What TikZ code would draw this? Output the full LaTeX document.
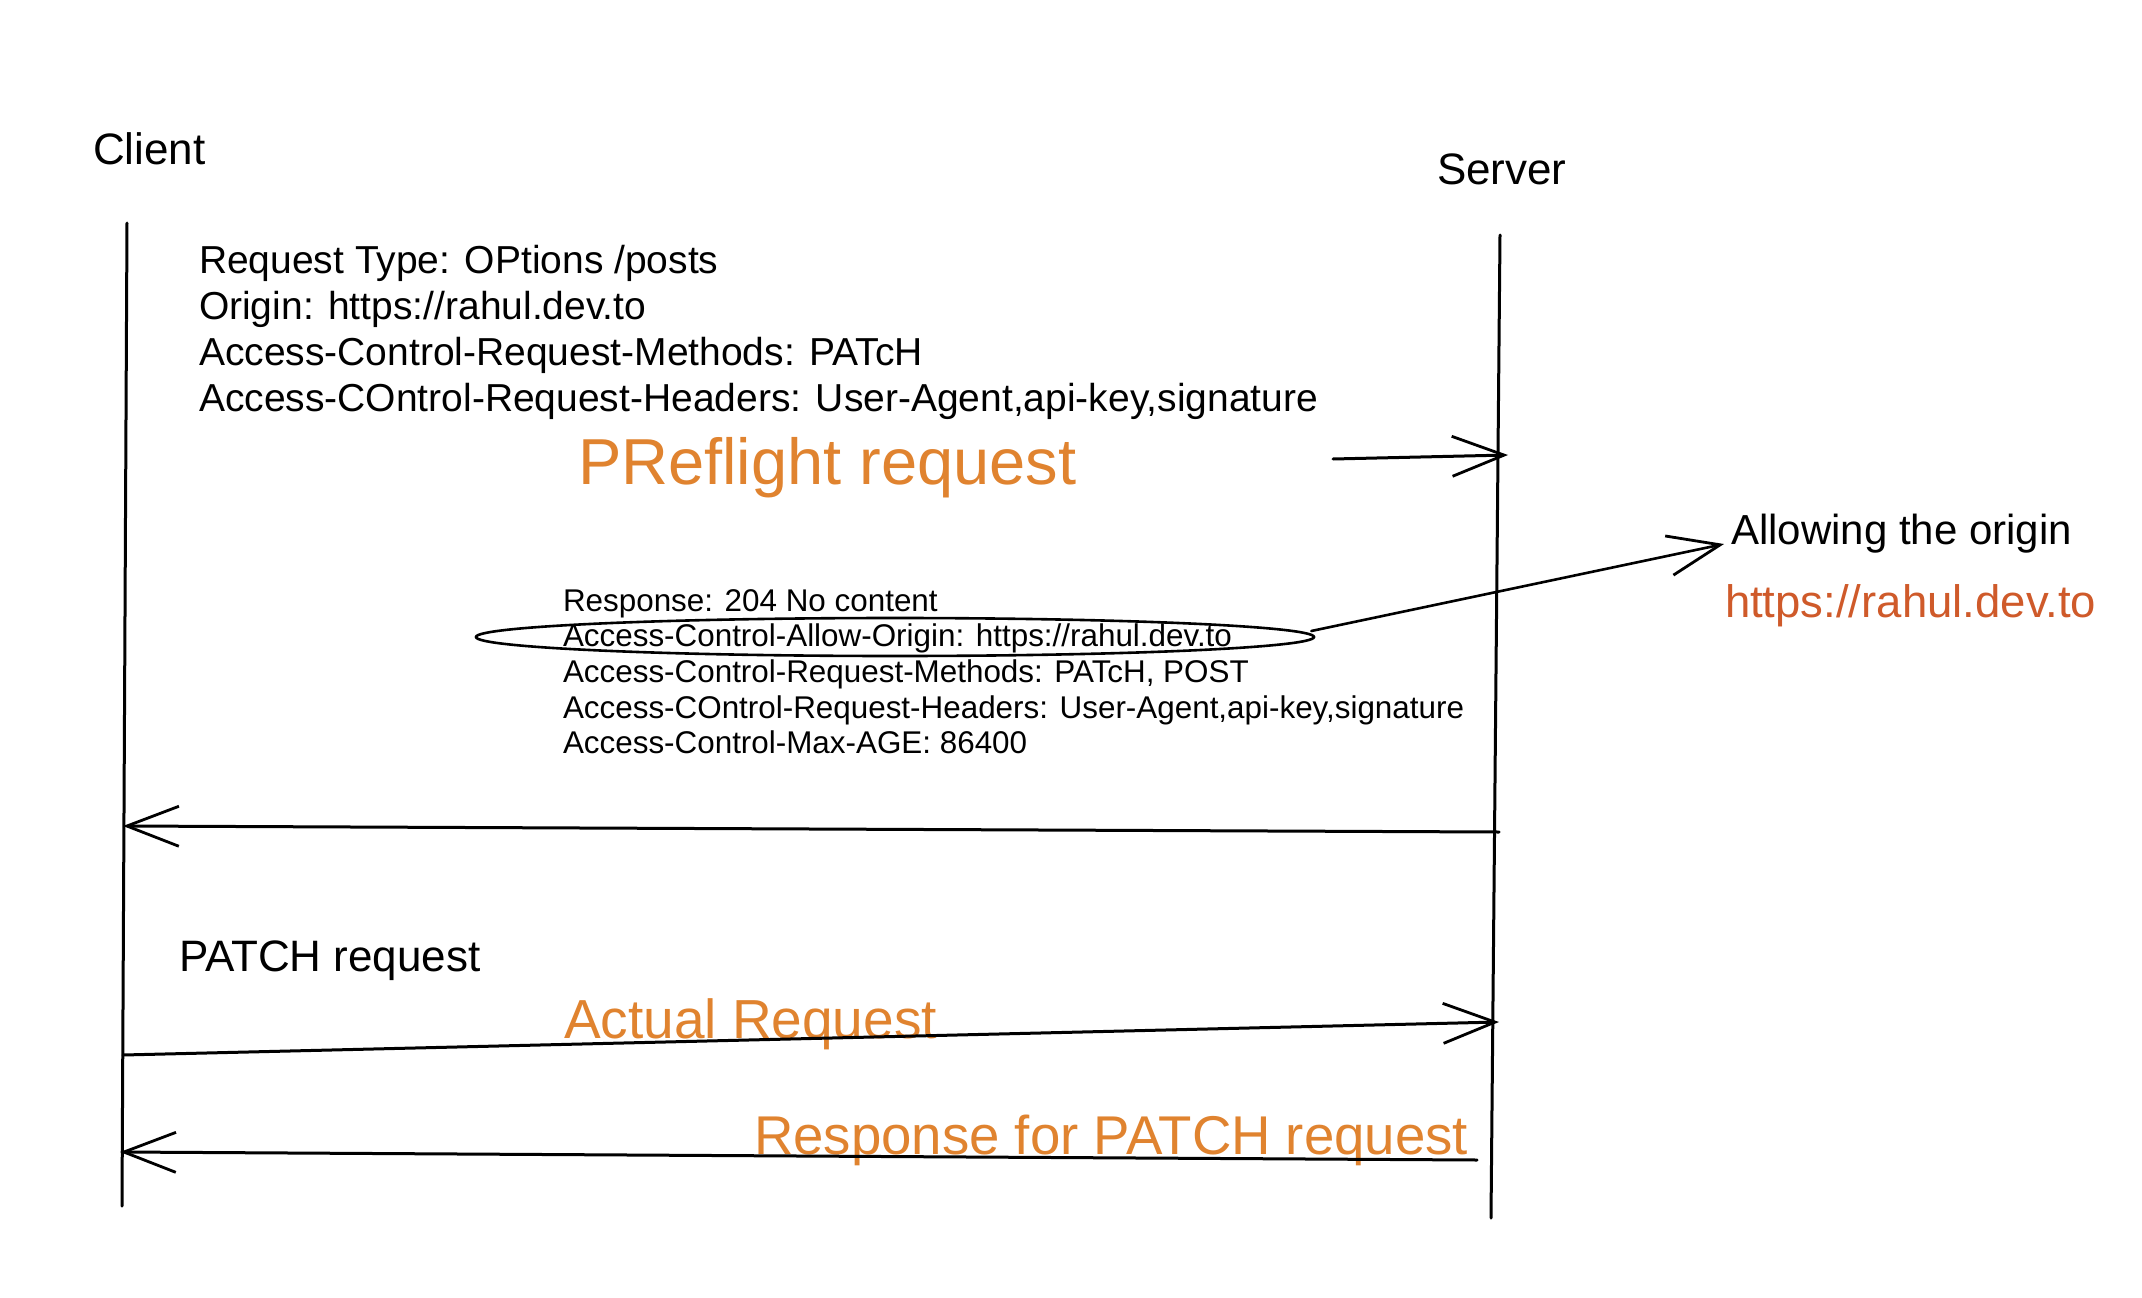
\documentclass[tikz,border=0pt]{standalone}
\usepackage{fontspec}
\setmainfont{Liberation Sans}
\usetikzlibrary{arrows.meta,shapes.geometric}
\definecolor{sketchorange}{HTML}{E0832F}
\definecolor{sketchred}{HTML}{CF5A2A}
\begin{document}
\begin{tikzpicture}[x=1pt,y=-1pt,
  lbl/.style={anchor=base west, inner sep=0pt, outer sep=0pt, text=black},
  big/.style={lbl, font=\fontsize{44}{50}\selectfont},
  reqtxt/.style={lbl, font=\fontsize{39}{46}\selectfont},
  resptxt/.style={lbl, font=\fontsize{31.4}{36}\selectfont},
  hot/.style={lbl, text=sketchorange},
  lifeline/.style={line width=3pt, line cap=round},
  msg/.style={line width=3pt, line cap=round,
    -{Straight Barb[length=52pt, width=40pt, line width=2.8pt]}},
  ring/.style={ellipse, draw, line width=2.6pt, inner sep=0pt}]
\path[use as bounding box, fill=white] (0,0) rectangle (2142,1298);

% participants
\node[big] (client) at (93,164) {Client};
\node[big] (server) at (1437,184) {Server};

% lifelines
\coordinate (cTop) at (127,223);
\coordinate (cBot) at (122,1206);
\coordinate (sTop) at (1500,235);
\coordinate (sBot) at (1491,1218);
\draw[lifeline] (cTop) -- (cBot);
\draw[lifeline] (sTop) -- (sBot);

% preflight request text
\node[reqtxt] (req1) at (199,273) {Request Type: OPtions /posts};
\node[reqtxt] (req2) at (199,319) {Origin: https://rahul.dev.to};
\node[reqtxt] (req3) at (199,365) {Access-Control-Request-Methods: PATcH};
\node[reqtxt] (req4) at (199,411) {Access-COntrol-Request-Headers: User-Agent,api-key,signature};
\node[hot, font=\fontsize{65}{70}\selectfont] (preflight) at (578,484) {PReflight request};

\coordinate (pfS) at (1333,459);
\coordinate (pfE) at (1508,455);
\draw[msg] (pfS) -- (pfE);

% preflight response text
\node[resptxt] (resp1) at (563,611) {Response: 204 No content};
\node[resptxt] (resp2) at (563,646) {Access-Control-Allow-Origin: https://rahul.dev.to};
\node[resptxt] (resp3) at (563,682) {Access-Control-Request-Methods: PATcH, POST};
\node[resptxt] (resp4) at (563,718) {Access-COntrol-Request-Headers: User-Agent,api-key,signature};
\node[resptxt] (resp5) at (563,753) {Access-Control-Max-AGE: 86400};

\node[ring, minimum width=838pt, minimum height=38pt] (oval) at (895,637) {};

% annotation
\node[lbl, font=\fontsize{42}{48}\selectfont] (allow) at (1731,544) {Allowing the origin};
\node[lbl, text=sketchred, font=\fontsize{45.5}{50}\selectfont] (origin) at (1725,617) {https://rahul.dev.to};
\coordinate (allowTip) at (1724,544);
\draw[msg, line width=2.6pt] (oval.east) ++(-4,-6) -- (allowTip);

\coordinate (r1S) at (1499,832);
\coordinate (r1E) at (123,826);
\draw[msg] (r1S) -- (r1E);

% actual request
\node[lbl, font=\fontsize{44}{50}\selectfont] (patch) at (179,971) {PATCH request};
\node[hot, font=\fontsize{55}{60}\selectfont] (actual) at (564,1038) {Actual Request};
\coordinate (aS) at (123,1055);
\coordinate (aE) at (1499,1022);
\draw[msg] (aS) -- (aE);

% response
\node[hot, font=\fontsize{54.6}{60}\selectfont] (patchresp) at (754,1154) {Response for PATCH request};
\coordinate (r2S) at (1477,1160);
\coordinate (r2E) at (120,1152);
\draw[msg] (r2S) -- (r2E);
\end{tikzpicture}
\end{document}
